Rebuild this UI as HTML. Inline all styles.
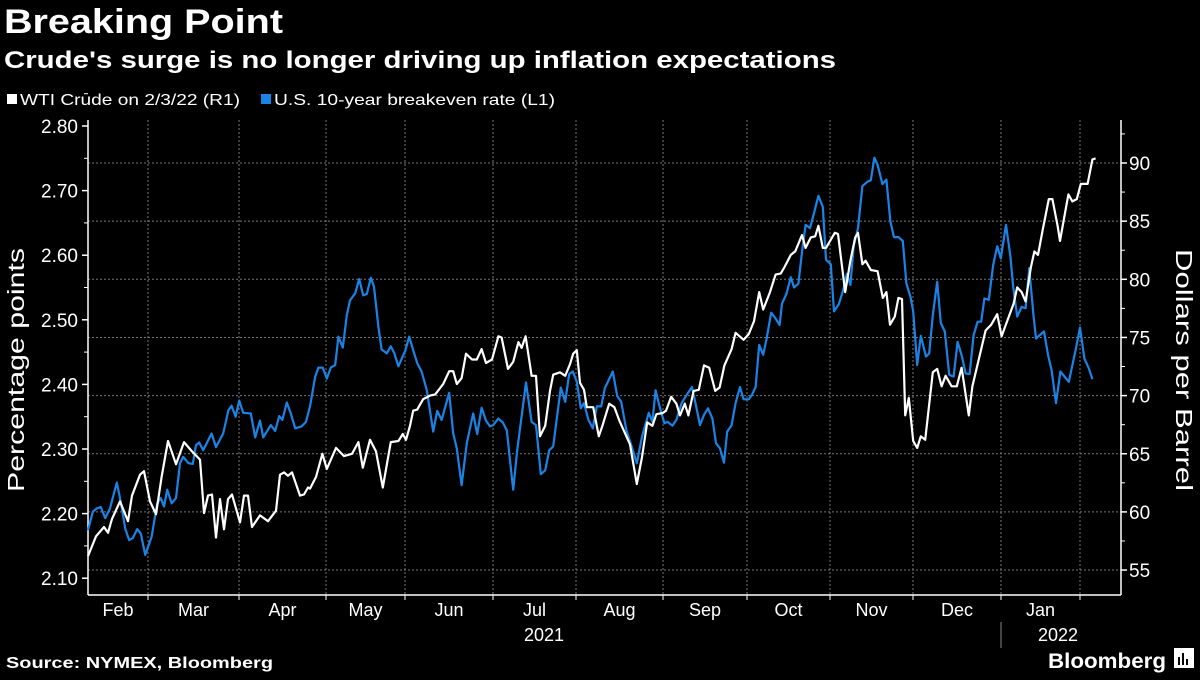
<!DOCTYPE html>
<html><head><meta charset="utf-8"><style>
body{margin:0;background:#000;width:1200px;height:675px;overflow:hidden;font-family:"Liberation Sans",sans-serif;color:#fff}
svg text{font-family:"Liberation Sans",sans-serif;fill:#fff}
</style></head><body>
<svg id="chart" width="1200" height="675" viewBox="0 0 1200 675" xmlns="http://www.w3.org/2000/svg">
<rect width="1200" height="675" fill="#000"/>
<text x="4" y="33" font-size="34" font-weight="bold" textLength="279" lengthAdjust="spacingAndGlyphs">Breaking Point</text>
<text x="4" y="68" font-size="24" font-weight="bold" textLength="832" lengthAdjust="spacingAndGlyphs">Crude's surge is no longer driving up inflation expectations</text>
<g>
<rect x="7" y="94" width="10" height="10" fill="#fff"/>
<text x="20" y="105" font-size="16" textLength="220" lengthAdjust="spacingAndGlyphs">WTI Crude on 2/3/22 (R1)</text>
<rect x="261" y="94" width="10" height="10" fill="#1a84e6"/>
<text x="274" y="105" font-size="16" textLength="281" lengthAdjust="spacingAndGlyphs">U.S. 10-year breakeven rate (L1)</text>
</g>
<g id="grid"></g>
<g id="axes"></g>
<g id="series"></g>
<text transform="translate(24,370) rotate(-90)" text-anchor="middle" font-size="23" textLength="244" lengthAdjust="spacingAndGlyphs">Percentage points</text>
<text transform="translate(1176,370) rotate(90)" text-anchor="middle" font-size="23" textLength="242" lengthAdjust="spacingAndGlyphs">Dollars per Barrel</text>
<text x="544" y="641" text-anchor="middle" font-size="18">2021</text>
<line x1="1001" y1="622" x2="1001" y2="648" stroke="#888" stroke-width="1"/>
<text x="1058" y="641" text-anchor="middle" font-size="18">2022</text>
<text x="6" y="668" font-size="16" font-weight="bold" textLength="267" lengthAdjust="spacingAndGlyphs">Source: NYMEX, Bloomberg</text>
<text x="1048" y="668" font-size="21" font-weight="bold" textLength="118" lengthAdjust="spacingAndGlyphs">Bloomberg</text>
<g>
<rect x="1174" y="648" width="20" height="20" fill="#fff"/>
<rect x="1178" y="657" width="2" height="8" fill="#000"/><rect x="1182" y="653" width="2" height="12" fill="#000"/><rect x="1186" y="659" width="2" height="6" fill="#000"/>
</g>
</svg>
<script>
const oilDays=[0,2,4,5,6,8,10,11,13,14,15.5,17,18.4,20,22,24,26,28,29,30,31,32,33,34,35,36,38,39,40,41,43,45,47,48,49,50,51,53,54,55,55.5,57,58.6,59.7,62,64,66,67.6,68.7,70.5,72,73.7,75.7,77.6,78.7,79.5,80.5,81.3,82.3,83.8,85.5,86.8,88.8,90.3,91.3,92.2,93.4,94.5,96,97.2,98.4,99.5,101,102.6,103.4,105,106.3,107.6,108.4,109.4,110.9,112,113,114.3,115.5,116.3,118,119.3,120.5,121.3,122.2,123,124,124.7,126.3,127.7,128.6,130.3,131.6,132.9,134.2,135.5,137.2,138.5,139.8,141.1,142.1,143.7,144.5,145.8,147.1,148,149.2,150.1,151.4,152.7,154,155.3,156.8,157.9,159.1,160.9,161.9,163.9,165.2,166.5,167.8,168.8,170.5,171.9,173.2,174.2,175.7,176.8,178.5,179.4,180.7,181.8,182.6,183.7,184.5,186.7,187.5,189.3,190.6,191.8,192.5,193.6,194.4,195.7,197.4,198.7,199.6,200.5,201.7,202.6,203.5,204.3,205.2,206.3,207.3,208.2,209.3,211.2,212.3,213.4,214.4,215.9,217.2,218.4,220.2,221.1,223.3,224.4,225.8,227.3,228.4,230.1,231.4,232.3,233.4,234.4,235.7,236.6,237.5,238.7,240.2,241.1,242.4,243,244.2,245.1,246.1,247.2,248.2,249.9,251.1,251.9];
const oilValues=[56.2,57.9,58.7,58.2,59.4,60.9,59.2,61.4,63.2,63.5,60.9,59.8,63.0,66.1,64.1,66.0,65.2,64.5,59.9,61.4,61.5,57.8,61.1,58.5,61.1,61.5,59.1,61.4,61.4,58.7,59.7,59.2,60.1,63.2,63.4,63.1,63.4,61.4,61.5,62.1,62.0,63.0,65.0,63.7,65.5,64.8,65.0,66.0,63.8,66.2,65.2,62.1,66.0,66.1,66.7,66.2,67.4,68.7,68.8,69.7,70.0,70.1,71.0,72.1,72.1,71.0,71.5,73.6,73.1,73.1,74.0,72.8,73.1,75.1,75.0,72.3,72.9,74.6,74.1,75.1,71.7,71.7,66.5,67.4,70.4,71.8,72.0,71.7,72.7,73.6,73.9,71.1,70.5,69.0,69.0,66.5,67.4,69.3,69.0,67.8,66.8,65.8,62.4,64.7,67.7,67.4,68.4,68.5,68.7,69.9,69.3,68.3,69.3,68.3,70.4,70.5,72.6,72.4,70.4,70.7,72.6,74.0,75.4,74.8,75.3,76.4,78.9,77.4,78.9,80.4,80.5,81.1,82.1,82.4,83.8,82.7,83.6,83.7,84.6,82.7,82.7,84.0,83.9,78.9,81.6,83.6,84.0,81.3,81.6,80.8,80.7,78.4,78.9,76.1,76.8,78.4,78.3,68.3,69.8,66.1,65.5,66.5,66.2,72.0,72.3,70.8,71.7,70.8,70.8,72.4,68.3,70.8,74.0,75.6,76.1,77.0,75.1,76.7,77.9,79.3,78.9,78.1,81.0,82.4,82.1,84.3,86.9,86.9,84.6,83.3,85.6,87.3,86.7,86.9,88.2,88.2,90.3,90.4];
const beDays=[0,1.2,2.2,3.2,4.3,5.5,7.2,8.2,9.3,10.3,11.2,12.3,13.2,14.3,15.9,17.3,18.2,19,19.8,20.9,22,23,23.8,25.1,26.2,27,27.8,28.8,30.9,32,33.8,35.1,35.9,36.9,37.8,38.8,40.7,41.8,43,43.8,45.7,46.8,47.8,48.6,49.7,50.7,51.8,53.4,54.5,55.5,56.8,57.6,58.7,59.7,60.7,61.8,62.6,63.7,64.7,65.5,66.8,67.8,68.8,69.7,70.7,71.5,72.6,73.4,74.7,75.7,76.6,77.6,79.3,80.3,81.3,82.3,83.4,84.7,86.3,87.3,88.4,90.3,91.3,92.2,93.4,94.7,96.3,97.3,98.4,99.5,100.5,101.3,102.6,103.7,104.7,106.3,107.3,109.5,110.9,112,113.2,114.3,115.3,116.3,118.2,119.3,120.3,121.2,122.2,123.2,124,125.1,126.2,127.2,128.3,129.2,131.2,132.3,133.3,134.6,135.9,137.2,138.5,140.2,141.1,141.9,142.8,144.1,144.9,146.1,147.1,148.4,149.7,151,151.8,153,154,155,156.1,157,158,159,159.8,160.9,161.9,163,163.9,165.2,166,166.9,167.8,168.8,169.6,170.8,171.9,172.9,173.5,174.6,175.7,176.5,177.6,178.5,179.4,180.5,181.5,182.6,183.7,184.5,185.7,186.5,187.7,188.8,189.7,190.6,191.4,192.5,193.6,194.9,195.7,196.6,197.4,198.6,199.6,200.6,201.5,202.6,203.7,204.6,205.6,206.3,207.3,208.2,209.5,210.3,211.2,212.3,213.2,214.2,215.3,216.4,217.4,218.5,219.4,220.4,221.4,222.4,223.3,224.1,225.2,226.3,227.3,228.2,229.5,230.6,231.3,232.3,233.4,234.4,235.3,236.4,237,239,240,240.9,242,243.1,245.2,246.9,248,249.1,250.2,251.1];
const beValues=[2.174,2.203,2.208,2.210,2.193,2.208,2.248,2.218,2.177,2.159,2.162,2.176,2.169,2.136,2.164,2.216,2.224,2.211,2.237,2.216,2.224,2.278,2.288,2.278,2.277,2.306,2.310,2.298,2.324,2.303,2.324,2.360,2.367,2.350,2.375,2.356,2.355,2.318,2.344,2.318,2.337,2.328,2.351,2.345,2.372,2.355,2.332,2.335,2.342,2.366,2.412,2.426,2.426,2.409,2.426,2.430,2.474,2.457,2.507,2.530,2.541,2.563,2.538,2.540,2.565,2.551,2.489,2.454,2.448,2.459,2.448,2.428,2.452,2.474,2.453,2.433,2.420,2.391,2.327,2.359,2.345,2.387,2.324,2.301,2.244,2.309,2.355,2.323,2.364,2.344,2.335,2.337,2.347,2.341,2.329,2.237,2.298,2.403,2.342,2.337,2.261,2.267,2.298,2.304,2.395,2.373,2.416,2.420,2.404,2.363,2.371,2.345,2.332,2.366,2.366,2.394,2.420,2.382,2.373,2.329,2.304,2.278,2.319,2.356,2.342,2.391,2.368,2.340,2.342,2.336,2.345,2.371,2.384,2.396,2.373,2.337,2.353,2.363,2.347,2.309,2.301,2.279,2.327,2.337,2.371,2.396,2.377,2.377,2.384,2.396,2.461,2.446,2.469,2.511,2.502,2.492,2.525,2.540,2.566,2.550,2.556,2.605,2.647,2.642,2.665,2.692,2.675,2.593,2.586,2.513,2.524,2.546,2.571,2.554,2.613,2.642,2.707,2.714,2.716,2.751,2.740,2.710,2.717,2.652,2.628,2.628,2.622,2.556,2.536,2.513,2.430,2.475,2.443,2.448,2.507,2.559,2.495,2.482,2.415,2.412,2.466,2.443,2.417,2.416,2.476,2.497,2.497,2.533,2.531,2.585,2.614,2.595,2.647,2.598,2.551,2.505,2.520,2.518,2.580,2.505,2.471,2.482,2.446,2.422,2.371,2.420,2.404,2.453,2.488,2.440,2.425,2.408];
const monthTickDays=[0,15,37.75,59.5,79.25,101.25,122,143.75,164.75,185.5,206.25,228.25,248];
const monthLabels=["Feb","Mar","Apr","May","Jun","Jul","Aug","Sep","Oct","Nov","Dec","Jan"];
const leftTicks=[2.10,2.20,2.30,2.40,2.50,2.60,2.70,2.80];
const rightTicks=[55,60,65,70,75,80,85,90];

const X0=88,X1=1121,YB=595;
const xS=t=>88+t*4;
const yL=v=>126+(2.80-v)*646;
const yR=v=>163+(90-v)*11.63;
const NS="http://www.w3.org/2000/svg";
function mk(tag,parent,attrs){const e=document.createElementNS(NS,tag);for(const k in attrs)e.setAttribute(k,attrs[k]);parent.appendChild(e);return e;}
const grid=document.getElementById('grid'),axes=document.getElementById('axes'),series=document.getElementById('series');

rightTicks.forEach(v=>{
  const l=mk('line',grid,{x1:X0,x2:X1,y1:yR(v),y2:yR(v),stroke:'#777','stroke-width':1,'stroke-dasharray':'2,2'});
  
  
  const tk=mk('line',axes,{x1:X1,x2:X1+6,y1:yR(v),y2:yR(v),stroke:'#fff','stroke-width':1.5});
  
  
  const t=mk('text',axes,{x:X1+8,y:yR(v)+7,'font-size':19});
  t.textContent=v;
  
  
  const m=mk('line',axes,{x1:X1,x2:X1+4,y1:yR(v+2.5),y2:yR(v+2.5),stroke:'#fff','stroke-width':1});
  
  
});
leftTicks.forEach(v=>{
  const tk=mk('line',axes,{x1:X0-6,x2:X0,y1:yL(v),y2:yL(v),stroke:'#fff','stroke-width':1.5});
  
  
  const t=mk('text',axes,{x:X0-10,y:yL(v)+7,'font-size':19,'text-anchor':'end'});
  t.textContent=v.toFixed(2);
  
  
  const m=mk('line',axes,{x1:X0-4,x2:X0,y1:yL(v+0.05),y2:yL(v+0.05),stroke:'#fff','stroke-width':1});
  
  
});
monthTickDays.forEach((d,i)=>{
  const x=xS(d);
  if(i>0){
    const g=mk('line',grid,{x1:x,x2:x,y1:120,y2:YB,stroke:'#777','stroke-width':1,'stroke-dasharray':'2,2'});
    
    
    const tk=mk('line',axes,{x1:x,x2:x,y1:YB,y2:YB+5,stroke:'#fff','stroke-width':1});
    
    
  }
  if(i<monthLabels.length){
    const nx=xS(monthTickDays[i+1]);
    const t=mk('text',axes,{x:(x+nx)/2,y:616,'font-size':18,'text-anchor':'middle'});
    t.textContent=monthLabels[i];
    
    
  }
});
const la=mk('line',axes,{x1:X0,x2:X0,y1:120,y2:YB,stroke:'#fff','stroke-width':1.5});


const ra=mk('line',axes,{x1:X1,x2:X1,y1:120,y2:YB,stroke:'#fff','stroke-width':1.5});


const ba=mk('line',axes,{x1:X0,x2:X1,y1:YB,y2:YB,stroke:'#fff','stroke-width':1.5});



const oilPath=oilDays.map((d,i)=>(i?'L':'M')+xS(d).toFixed(1)+','+yR(oilValues[i]).toFixed(1)).join('');
const bePath=beDays.map((d,i)=>(i?'L':'M')+xS(d).toFixed(1)+','+yL(beValues[i]).toFixed(1)).join('');
const bl=mk('path',series,{d:bePath,fill:'none',stroke:'#1a84e6','stroke-width':2.2,'stroke-linejoin':'round'});


const ol=mk('path',series,{d:oilPath,fill:'none',stroke:'#fff','stroke-width':2.2,'stroke-linejoin':'round'});


</script>
</body></html>
